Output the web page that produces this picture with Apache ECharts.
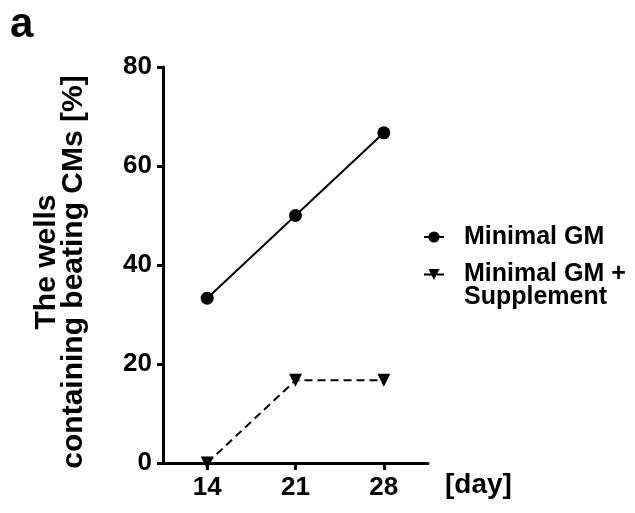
<!DOCTYPE html>
<html>
<head>
<meta charset="utf-8">
<script src="https://cdn.jsdelivr.net/npm/echarts@6/dist/echarts.min.js"></script>
<style>
html,body{margin:0;padding:0;background:#fff;}
#chart{width:635px;height:513px;}
</style>
</head>
<body>
<div id="chart"></div>
<script>
var days = ['14', '21', '28'];
var minimalGM = [33.3, 50.0, 66.7];
var minimalGMSupplement = [0, 16.7, 16.7];
var yTicks = [0, 20, 40, 60, 80];
var seriesNames = ['Minimal GM', 'Minimal GM + Supplement'];

var FONT = '"Liberation Sans", Arial, Helvetica, sans-serif';
var chart = echarts.init(document.getElementById('chart'), null, {renderer: 'canvas'});

var legendText = {color: '#000', fontFamily: FONT, fontWeight: 'bold', fontSize: 25, padding: [0, 0, 0, 15]};

var option = {
  backgroundColor: '#fff',
  animation: false,
  grid: {left: 163, right: 207, top: 67, bottom: 50, containLabel: false},
  xAxis: {
    type: 'category',
    data: days,
    boundaryGap: true,
    axisLine: {show: true, lineStyle: {color: '#000', width: 3}},
    axisTick: {show: true, alignWithLabel: true, length: 7, lineStyle: {color: '#000', width: 3}},
    axisLabel: {color: '#000', fontFamily: FONT, fontWeight: 'bold', fontSize: 26, margin: 12},
    splitLine: {show: false}
  },
  yAxis: {
    type: 'value',
    min: yTicks[0],
    max: yTicks[yTicks.length - 1],
    interval: 20,
    axisLine: {show: true, lineStyle: {color: '#000', width: 3}},
    axisTick: {show: true, length: 6, lineStyle: {color: '#000', width: 3}},
    axisLabel: {color: '#000', fontFamily: FONT, fontWeight: 'bold', fontSize: 26, margin: 11},
    splitLine: {show: false}
  },
  legend: [{
    data: [seriesNames[0]],
    orient: 'vertical',
    left: 418,
    top: 218,
    itemWidth: 20,
    itemHeight: 14,
    textStyle: Object.assign({lineHeight: 28}, legendText)
  }, {
    data: [seriesNames[1]],
    orient: 'vertical',
    left: 418,
    top: 234,
    itemWidth: 20,
    itemHeight: 14,
    formatter: function () { return ' \nMinimal GM +\nSupplement'; },
    textStyle: Object.assign({lineHeight: 23}, legendText)
  }],
  series: [{
    name: seriesNames[0],
    type: 'line',
    data: minimalGM,
    symbol: 'circle',
    symbolSize: 13,
    lineStyle: {color: '#000', width: 2},
    itemStyle: {color: '#000'}
  }, {
    name: seriesNames[1],
    type: 'line',
    data: minimalGMSupplement,
    symbol: 'triangle',
    symbolRotate: 180,
    symbolSize: 13,
    lineStyle: {color: '#000', width: 2, type: [8, 5]},
    itemStyle: {color: '#000'}
  }],
  graphic: [{
    type: 'text', left: 10, top: 4,
    style: {text: 'a', fill: '#000', font: 'bold 42px ' + FONT}
  }, {
    type: 'text', x: 47, y: 262, rotation: Math.PI / 2,
    style: {text: 'The wells', fill: '#000', font: 'bold 30px ' + FONT, align: 'center', verticalAlign: 'middle'}
  }, {
    type: 'text', x: 74, y: 272, rotation: Math.PI / 2,
    style: {text: 'containing beating CMs [%]', fill: '#000', font: 'bold 30px ' + FONT, align: 'center', verticalAlign: 'middle'}
  }, {
    type: 'text', left: 445, top: 471,
    style: {text: '[day]', fill: '#000', font: 'bold 28px ' + FONT}
  }]
};
chart.setOption(option);
</script>
</body>
</html>
